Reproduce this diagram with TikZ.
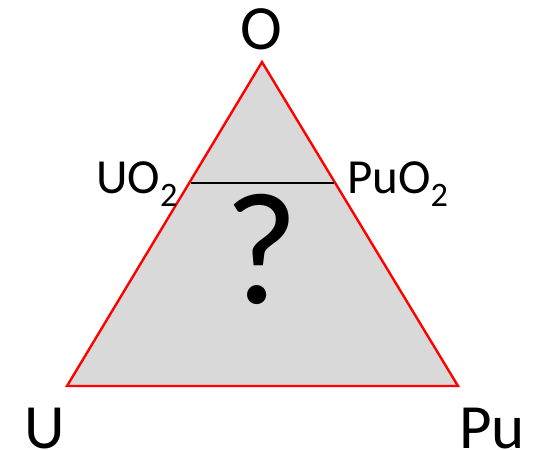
\documentclass[tikz,border=0pt]{standalone}
\usepackage{fontspec}
\setmainfont{Carlito}
\begin{document}
\begin{tikzpicture}[x=1pt,y=-1pt,
  big/.style={inner sep=0pt,font=\fontsize{63}{63}\selectfont},
  mid/.style={inner sep=0pt,font=\fontsize{49}{49}\selectfont}]
\useasboundingbox (0,0) rectangle (534,449);
\coordinate (top) at (262,62);
\coordinate (bl) at (67,386);
\coordinate (br) at (458,386);
\filldraw[draw=red,fill=black!15,line width=2.4pt,line join=miter] (top) -- (br) -- (bl) -- cycle;
\coordinate (la) at (191,183);
\coordinate (lb) at (334,183);
\draw[line width=1.3pt] (la) -- (lb);
\node[big,anchor=base] (o) at (261,50) {O};
\node[mid,anchor=base west] (uo2) at (96,193) {UO\textsubscript{2}};
\node[mid,anchor=base west] (puo2) at (347,193) {PuO\textsubscript{2}};
\node[big,anchor=base west] (u) at (24,448) {U};
\node[big,anchor=base west] (pu) at (459,448) {Pu};
\node[inner sep=0pt,font=\fontsize{160}{160}\selectfont,anchor=base] (q) at (262,303) {?};
\end{tikzpicture}
\end{document}
